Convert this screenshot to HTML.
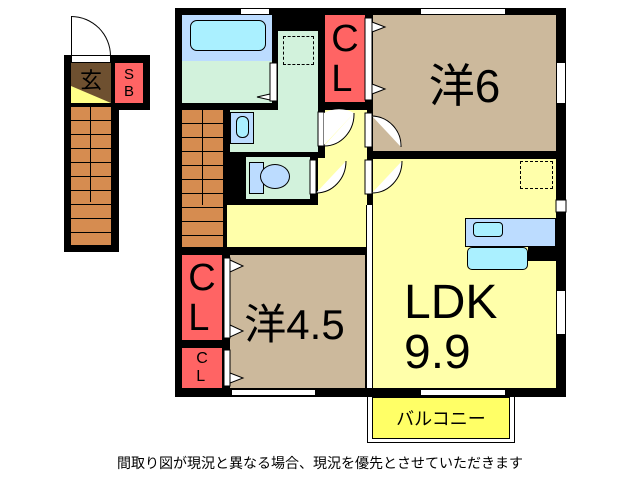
<!DOCTYPE html><html><head><meta charset="utf-8"><style>
body{margin:0;width:640px;height:480px;background:#fff;position:relative;overflow:hidden;font-family:"Liberation Sans","Noto Sans CJK JP",sans-serif}
div{position:absolute;box-sizing:border-box}
.t{display:flex;align-items:center;justify-content:center;color:#000}
</style></head><body>
<div style="left:175px;top:8px;width:391px;height:389px;background:#000"></div>
<div style="left:182px;top:15px;width:90px;height:46px;background:#bcdcff"></div>
<div style="left:190px;top:20px;width:76px;height:31px;background:#aaf0ff;border:1px solid #000;border-radius:7px"></div>
<div style="left:182px;top:61px;width:90px;height:42px;background:#d2f2dc"></div>
<div style="left:278px;top:31px;width:40px;height:121px;background:#d2f2dc"></div>
<div style="left:230px;top:110px;width:88px;height:42px;background:#d2f2dc"></div>
<div style="left:283px;top:36px;width:31px;height:29px;border:1px dashed #000"></div>
<div style="left:230px;top:112px;width:24px;height:32px;background:#bcdcff;border:1px solid #000"></div>
<div style="left:236px;top:116px;width:13px;height:22px;background:#aaf0ff;border:1px solid #000;border-radius:6px"></div>
<div style="left:246px;top:157px;width:64px;height:42px;background:#d2f2dc"></div>
<div style="left:249px;top:162px;width:15px;height:32px;background:#bcdcff;border:1px solid #000"></div>
<div style="left:260px;top:164px;width:30px;height:25px;background:#bcdcff;border:1px solid #000;border-radius:50%"></div>
<div style="left:325px;top:110px;width:42px;height:48px;background:#ffffaa"></div>
<div style="left:318px;top:158px;width:49px;height:47px;background:#ffffaa"></div>
<div style="left:227px;top:205px;width:140px;height:42px;background:#ffffaa"></div>
<div style="left:182px;top:110px;width:41px;height:137px;background:#d68c50;background-image:repeating-linear-gradient(#d68c50 0 13px,#000 13px 14px)"></div>
<div style="left:202px;top:110px;width:1px;height:95px;background:#000"></div>
<div class="t" style="left:325px;top:15px;width:40px;height:87px;background:#ff6464;font-size:38px;flex-direction:column;line-height:40px">C<br>L</div>
<div class="t" style="left:373px;top:15px;width:183px;height:136px;background:#ccb99c;font-size:46px">洋6</div>
<div style="left:373px;top:159px;width:183px;height:229px;background:#ffffaa"></div>
<div style="left:520px;top:161px;width:33px;height:28px;border:1px dashed #000"></div>
<div style="left:465px;top:218px;width:91px;height:29px;background:#bcdcff;border:1px solid #000"></div>
<div style="left:473px;top:222px;width:30px;height:15px;background:#aaf0ff;border:1px solid #000;border-radius:4px"></div>
<div style="left:467px;top:247px;width:61px;height:23px;background:#aaf0ff;border:1px solid #000;border-radius:5px"></div>
<div style="left:528px;top:247px;width:28px;height:14px;background:#000"></div>
<div class="t" style="left:404px;top:278px;font-size:48px;line-height:50px;justify-content:flex-start;flex-direction:column;align-items:flex-start">LDK<br>9.9</div>
<div class="t" style="left:182px;top:255px;width:40px;height:85px;background:#ff6464;font-size:38px;flex-direction:column;line-height:40px">C<br>L</div>
<div class="t" style="left:182px;top:348px;width:40px;height:40px;background:#ff6464;font-size:16px;flex-direction:column;line-height:18px">C<br>L</div>
<div class="t" style="left:230px;top:255px;width:135px;height:133px;background:#ccb99c;font-size:42px;padding-right:6px">洋4.5</div>
<div style="left:366px;top:205px;width:7px;height:183px;background:#fff;border-left:1px solid #000;border-right:1px solid #000"></div>
<div style="left:240px;top:8px;width:30px;height:7px;background:#fff;border:1px solid #000"></div>
<div style="left:420px;top:8px;width:86px;height:7px;background:#fff;border:1px solid #000"></div>
<div style="left:556px;top:62px;width:10px;height:42px;background:#fff;border:1px solid #000"></div>
<div style="left:556px;top:290px;width:10px;height:45px;background:#fff;border:1px solid #000"></div>
<div style="left:231px;top:389px;width:85px;height:7px;background:#fff;border:1px solid #000"></div>
<div style="left:420px;top:389px;width:86px;height:7px;background:#fff;border:1px solid #000"></div>
<svg style="position:absolute;left:0;top:0" width="640" height="480">
<g fill="#fff" stroke="#000" stroke-width="1">
<rect x="318" y="112" width="6" height="34"/><path d="M324 113 A32 32 0 0 1 354 113 L324 145Z" stroke="none"/><path d="M324 146 A30 32 0 0 0 354 113"/>
<rect x="365" y="113" width="7" height="34"/><path d="M372 116 A30 30 0 0 1 401 147"/>
<rect x="310" y="160" width="6" height="34"/><path d="M316 193 A30 32 0 0 0 346 161"/>
<rect x="365" y="160" width="7" height="34"/><path d="M372 193 A30 32 0 0 0 402 161"/>
<rect x="270" y="63" width="7" height="38"/><polygon points="270,94 257,97 270,100"/>
<rect x="365" y="18" width="7" height="82"/><polygon points="372,22 385,27 372,32"/><polygon points="372,84 385,89 372,94"/>
<rect x="224" y="258" width="6" height="80"/><polygon points="230,260 243,266 230,272"/><polygon points="230,325 243,331 230,337"/>
<rect x="224" y="350" width="6" height="36"/><polygon points="230,373 243,378 230,383"/>
<rect x="556" y="200" width="10" height="12"/>
</g></svg>
<div style="left:367px;top:397px;width:148px;height:46px;border:1px solid #000;border-top:none"></div>
<div class="t" style="left:372px;top:397px;width:138px;height:42px;background:#ffff66;border:1px solid #000;font-size:18px">バルコニー</div>
<div style="left:64px;top:55px;width:86px;height:55px;background:#000"></div>
<div style="left:64px;top:55px;width:55px;height:197px;background:#000"></div>
<div style="left:71px;top:55px;width:40px;height:8px;background:#fff;border:1px solid #000"></div>
<div style="left:71px;top:16px;width:40px;height:40px;border:1px solid #000;border-bottom:none;border-radius:0 40px 0 0"></div>
<div class="t" style="left:71px;top:63px;width:40px;height:40px;background:#6e5030;font-size:22px;align-items:flex-start">玄</div>
<div style="left:71px;top:86px;width:40px;height:17px;background:#ffff88;clip-path:polygon(0 0,100% 100%,0 100%)"></div>
<div class="t" style="left:115px;top:63px;width:28px;height:40px;background:#ff6464;font-size:15px;flex-direction:column;line-height:17px">S<br>B</div>
<div style="left:71px;top:107px;width:40px;height:138px;background:#d68c50;background-image:repeating-linear-gradient(#d68c50 0 13px,#000 13px 14px)"></div>
<div style="left:90px;top:107px;width:1px;height:95px;background:#000"></div>
<div class="t" style="left:0;top:451px;width:640px;height:24px;font-size:14px">間取り図が現況と異なる場合、現況を優先とさせていただきます</div>
</body></html>
